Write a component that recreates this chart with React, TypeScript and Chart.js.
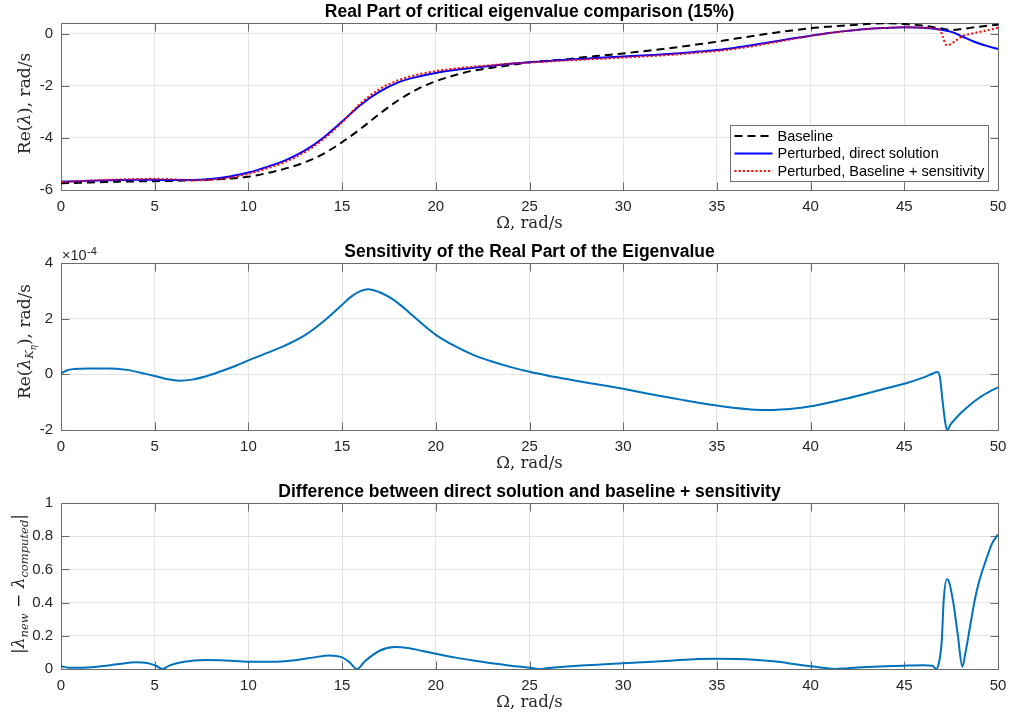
import React, { useEffect, useRef } from "react";
import { Chart, registerables } from "chart.js";

Chart.register(...registerables);

// ---- Top panel: real part of the critical eigenvalue (rad/s) ----
const baselineOmega = [0, 1, 2, 3, 4, 5, 6, 7, 8, 9, 10, 11, 12, 13, 14, 15, 16, 17, 18, 19, 20, 21, 22, 23, 24, 25, 26, 27, 28, 29, 30, 31, 32, 33, 34, 35, 36, 37, 38, 39, 40, 41, 42, 43, 44, 45, 46, 46.9, 47.6, 48.1, 49, 50];
const baselineRe = [-5.74, -5.72, -5.7, -5.68, -5.67, -5.66, -5.65, -5.63, -5.6, -5.56, -5.49, -5.35, -5.17, -4.94, -4.61, -4.16, -3.64, -3.07, -2.55, -2.13, -1.82, -1.59, -1.41, -1.3, -1.2, -1.09, -1.03, -0.97, -0.89, -0.82, -0.75, -0.67, -0.59, -0.5, -0.4, -0.3, -0.18, -0.07, 0.04, 0.13, 0.22, 0.28, 0.33, 0.38, 0.41, 0.38, 0.32, 0.22, 0.15, 0.19, 0.28, 0.35];

const directOmega = [0, 1, 2, 3, 4, 5, 6, 7, 8, 9, 10, 11, 12, 13, 14, 15, 16, 17, 18, 19, 20, 21, 22, 23, 24, 25, 26, 27, 28, 29, 30, 31, 32, 33, 34, 35, 36, 37, 38, 39, 40, 41, 42, 43, 44, 45, 46, 46.9, 47.6, 48.1, 48.7, 49.4, 50];
const directRe = [-5.68, -5.66, -5.63, -5.62, -5.61, -5.61, -5.62, -5.62, -5.58, -5.48, -5.33, -5.11, -4.85, -4.49, -3.99, -3.37, -2.72, -2.22, -1.86, -1.65, -1.5, -1.39, -1.3, -1.22, -1.15, -1.09, -1.04, -0.99, -0.95, -0.91, -0.87, -0.83, -0.79, -0.74, -0.68, -0.62, -0.53, -0.42, -0.3, -0.18, -0.07, 0.04, 0.12, 0.19, 0.23, 0.26, 0.24, 0.17, 0.06, -0.1, -0.29, -0.46, -0.58];

const estimateOmega = [0, 1, 2, 3, 4, 5, 6, 7, 8, 9, 10, 11, 12, 13, 14, 15, 16, 17, 18, 19, 20, 21, 22, 23, 24, 25, 26, 27, 28, 29, 30, 31, 32, 33, 34, 35, 36, 37, 38, 39, 40, 41, 42, 43, 44, 45, 46, 46.9, 47.05, 47.25, 47.45, 47.8, 48.1, 48.7, 49.4, 50];
const estimateRe = [-5.7, -5.66, -5.62, -5.6, -5.58, -5.57, -5.59, -5.63, -5.61, -5.53, -5.38, -5.17, -4.91, -4.55, -4.05, -3.4, -2.66, -2.12, -1.78, -1.57, -1.43, -1.33, -1.26, -1.2, -1.14, -1.1, -1.06, -1.02, -0.98, -0.95, -0.91, -0.87, -0.83, -0.78, -0.72, -0.66, -0.57, -0.46, -0.33, -0.2, -0.08, 0.03, 0.12, 0.19, 0.23, 0.26, 0.24, 0.16, -0.1, -0.43, -0.4, -0.23, -0.09, 0.03, 0.13, 0.24];

// ---- Middle panel: sensitivity of the real part, in units of 1e-4 rad/s ----
const sensOmega = [0, 0.3, 0.7, 1.5, 2.5, 3.5, 4.3, 5, 5.7, 6.3, 7, 7.7, 8.5, 9.3, 10, 11, 12, 13, 14, 15, 15.5, 16, 16.4, 17, 17.5, 18, 18.5, 19, 19.5, 20, 21, 22, 23, 24, 25, 26, 27, 28, 29, 30, 31, 32, 33, 34, 35, 36, 37, 38, 39, 40, 41, 42, 43, 44, 45, 46, 46.5, 46.75, 46.9, 47.05, 47.2, 47.3, 47.45, 47.7, 48, 48.5, 49, 49.5, 50];
const sensReE4 = [0.03, 0.14, 0.19, 0.21, 0.21, 0.16, 0.05, -0.06, -0.18, -0.23, -0.19, -0.08, 0.1, 0.3, 0.5, 0.77, 1.05, 1.4, 1.9, 2.5, 2.8, 3.0, 3.06, 2.95, 2.78, 2.55, 2.27, 1.97, 1.68, 1.42, 1.02, 0.7, 0.46, 0.26, 0.09, -0.05, -0.17, -0.29, -0.4, -0.52, -0.65, -0.78, -0.9, -1.02, -1.12, -1.21, -1.27, -1.28, -1.24, -1.15, -1.01, -0.86, -0.69, -0.51, -0.34, -0.12, 0.02, 0.08, -0.1, -1.0, -1.8, -2.0, -1.82, -1.62, -1.4, -1.1, -0.84, -0.64, -0.47];

// ---- Bottom panel: |lambda_new - lambda_computed| ----
const diffOmega = [0, 0.4, 1, 2, 3, 4, 4.6, 5.1, 5.4, 5.8, 6.5, 7.7, 8.5, 9.5, 10.5, 11.5, 12.5, 13.5, 14.3, 15, 15.4, 15.8, 16.2, 17, 17.8, 18.5, 19.3, 20, 21, 22, 23, 24, 25, 25.5, 26, 27, 28, 29, 30, 31, 32, 33, 34, 35, 36, 37, 38, 39, 40, 40.7, 41.3, 42, 43, 44, 45, 46, 46.5, 46.7, 46.87, 47.0, 47.1, 47.27, 47.37, 47.6, 47.85, 48.1, 48.25, 48.5, 48.75, 49, 49.4, 49.7, 50];
const diffAbs = [0.016, 0.008, 0.008, 0.015, 0.028, 0.04, 0.036, 0.018, 0.0, 0.022, 0.042, 0.054, 0.053, 0.047, 0.043, 0.044, 0.053, 0.07, 0.082, 0.07, 0.04, 0.0, 0.045, 0.11, 0.132, 0.127, 0.108, 0.092, 0.07, 0.051, 0.034, 0.02, 0.008, 0.0, 0.006, 0.015, 0.022, 0.028, 0.034, 0.04, 0.046, 0.054, 0.06, 0.062, 0.06, 0.055, 0.046, 0.032, 0.016, 0.007, 0.0, 0.005, 0.012, 0.017, 0.02, 0.022, 0.02, 0.0, 0.05, 0.17, 0.41, 0.54, 0.53, 0.41, 0.21, 0.014, 0.09, 0.25, 0.41, 0.53, 0.67, 0.76, 0.81];

// ---- Axis ticks ----
const omegaTicks = [0, 5, 10, 15, 20, 25, 30, 35, 40, 45, 50];
const reTicks = [-6, -4, -2, 0];
const sensTicks = [-2, 0, 2, 4];
const diffTicks = [0, 0.2, 0.4, 0.6, 0.8, 1];

const legendLabels = ["Baseline", "Perturbed, direct solution", "Perturbed, Baseline + sensitivity"];

const SANS = '"Liberation Sans", Arial, Helvetica, sans-serif';
const SERIF = '"DejaVu Serif", "Liberation Serif", serif';
const AXIS = "#262626";
const BOX = "#6b6b6b";
const GRID = "#e3e3e3";
const MATLAB_BLUE = "#0072BD";
const LABEL_SIZE = 17;
const SUB_SIZE = 11.5;

type Seg = { t: string; size: number; italic?: boolean; dy?: number };

interface PanelSpec {
  top: number;
  height: number;
  padTop: number;
  xAxisH: number;
  title: string;
  yMin: number;
  yMax: number;
  yTicks: number[];
  yLabel: Seg[];
  yLabelBase: number;
  yLabelShift: number;
  datasets: any[];
  legend?: boolean;
  exponent?: boolean;
}

const pts = (xs: number[], ys: number[]) => xs.map((x, i) => ({ x, y: ys[i] }));

const lineStyle = (color: string, dash: number[] = []) => ({
  borderColor: color,
  backgroundColor: color,
  borderWidth: 2,
  borderDash: dash,
  pointRadius: 0,
  fill: false,
  cubicInterpolationMode: "monotone" as const,
});

const PANELS: PanelSpec[] = [
  {
    top: 0,
    height: 230,
    padTop: 23,
    xAxisH: 40,
    title: "Real Part of critical eigenvalue comparison (15%)",
    yMin: -6,
    yMax: 0.42,
    yTicks: reTicks,
    yLabel: [
      { t: "Re(", size: LABEL_SIZE },
      { t: "λ", size: LABEL_SIZE, italic: true },
      { t: "), rad/s", size: LABEL_SIZE },
    ],
    yLabelBase: 30,
    yLabelShift: -3,
    legend: true,
    datasets: [
      { label: legendLabels[0], data: pts(baselineOmega, baselineRe), order: 3, ...lineStyle("#000000", [8, 5]) },
      { label: legendLabels[1], data: pts(directOmega, directRe), order: 2, ...lineStyle("#0000ff") },
      { label: legendLabels[2], data: pts(estimateOmega, estimateRe), order: 1, ...lineStyle("#ff0000", [2, 2.2]) },
    ],
  },
  {
    top: 230,
    height: 250,
    padTop: 33,
    xAxisH: 50,
    title: "Sensitivity of the Real Part of the Eigenvalue",
    yMin: -2,
    yMax: 4,
    yTicks: sensTicks,
    yLabel: [
      { t: "Re(", size: LABEL_SIZE },
      { t: "λ", size: LABEL_SIZE, italic: true },
      { t: "K", size: SUB_SIZE, italic: true, dy: 3 },
      { t: "η", size: 8.5, italic: true, dy: 6 },
      { t: "), rad/s", size: LABEL_SIZE },
    ],
    yLabelBase: 30,
    yLabelShift: -5,
    exponent: true,
    datasets: [{ label: "sensitivity", data: pts(sensOmega, sensReE4), ...lineStyle(MATLAB_BLUE) }],
  },
  {
    top: 480,
    height: 238,
    padTop: 23,
    xAxisH: 49,
    title: "Difference between direct solution and baseline + sensitivity",
    yMin: 0,
    yMax: 1,
    yTicks: diffTicks,
    yLabel: [
      { t: "|", size: LABEL_SIZE },
      { t: "λ", size: LABEL_SIZE, italic: true },
      { t: "new", size: SUB_SIZE, italic: true, dy: 4 },
      { t: " − ", size: LABEL_SIZE },
      { t: "λ", size: LABEL_SIZE, italic: true },
      { t: "computed", size: SUB_SIZE, italic: true, dy: 4 },
      { t: "|", size: LABEL_SIZE },
    ],
    yLabelBase: 24,
    yLabelShift: -2,
    datasets: [{ label: "difference", data: pts(diffOmega, diffAbs), ...lineStyle(MATLAB_BLUE) }],
  },
];

const segFont = (s: Seg) => `${s.italic ? "italic " : ""}${s.size}px ${SERIF}`;

// Draws a run of text pieces (with sub-scripts) centred on (cx, baseline)
function drawRich(ctx: CanvasRenderingContext2D, segs: Seg[], cx: number, cy: number, rotate: boolean) {
  ctx.save();
  ctx.translate(cx, cy);
  if (rotate) ctx.rotate(-Math.PI / 2);
  ctx.fillStyle = AXIS;
  ctx.textBaseline = "alphabetic";
  ctx.textAlign = "left";
  const widths = segs.map((s) => {
    ctx.font = segFont(s);
    return ctx.measureText(s.t).width;
  });
  const total = widths.reduce((a, b) => a + b, 0);
  let x = -total / 2;
  segs.forEach((s, i) => {
    ctx.font = segFont(s);
    ctx.fillText(s.t, x, s.dy || 0);
    x += widths[i];
  });
  ctx.restore();
}

function decorPlugin(spec: PanelSpec) {
  return {
    id: "panelDecor",
    beforeDatasetsDraw(chart: any) {
      const { ctx, chartArea: a, scales } = chart;
      const L = Math.floor(a.left) + 0.5;
      const R = Math.floor(a.right) + 0.5;
      const T = Math.floor(a.top) + 0.5;
      const B = Math.floor(a.bottom) + 0.5;
      const tl = 8;
      ctx.save();
      ctx.strokeStyle = BOX;
      ctx.lineWidth = 1;
      ctx.beginPath();
      ctx.rect(L, T, R - L, B - T);
      omegaTicks.forEach((v) => {
        const px = Math.round(scales.x.getPixelForValue(v)) + 0.5;
        ctx.moveTo(px, B);
        ctx.lineTo(px, B - tl);
        ctx.moveTo(px, T);
        ctx.lineTo(px, T + tl);
      });
      spec.yTicks.forEach((v) => {
        const py = Math.round(scales.y.getPixelForValue(v)) + 0.5;
        ctx.moveTo(L, py);
        ctx.lineTo(L + tl, py);
        ctx.moveTo(R, py);
        ctx.lineTo(R - tl, py);
      });
      ctx.stroke();
      ctx.restore();
    },
    afterDraw(chart: any) {
      const { ctx, chartArea: a } = chart;
      const cx = (a.left + a.right) / 2;
      ctx.save();
      // title
      ctx.fillStyle = "#000";
      ctx.font = `bold 17.5px ${SANS}`;
      ctx.textAlign = "center";
      ctx.textBaseline = "middle";
      ctx.fillText(spec.title, cx, a.top - 10.5);
      ctx.restore();

      // x-axis label
      drawRich(ctx, [{ t: "Ω, rad/s", size: LABEL_SIZE - 0.5 }], cx, a.bottom + 38, false);
      // y-axis label
      drawRich(ctx, spec.yLabel, spec.yLabelBase, (a.top + a.bottom) / 2 + spec.yLabelShift, true);

      if (spec.exponent) {
        ctx.save();
        ctx.fillStyle = AXIS;
        ctx.textAlign = "left";
        ctx.textBaseline = "alphabetic";
        ctx.font = `14.5px ${SANS}`;
        ctx.fillText("×10", a.left + 1, a.top - 3);
        const w = ctx.measureText("×10").width;
        ctx.font = `11px ${SANS}`;
        ctx.fillText("-4", a.left + 1 + w + 0.5, a.top - 8);
        ctx.restore();
      }

      if (spec.legend) {
        const bx = 730.5, by = 125.5, bw = 258, bh = 56;
        ctx.save();
        ctx.fillStyle = "#fff";
        ctx.fillRect(bx, by, bw, bh);
        ctx.strokeStyle = BOX;
        ctx.lineWidth = 1;
        ctx.strokeRect(bx, by, bw, bh);
        const rows = [136, 153.5, 171];
        chart.data.datasets.forEach((ds: any, i: number) => {
          const y = rows[i];
          ctx.strokeStyle = ds.borderColor;
          ctx.lineWidth = ds.borderWidth;
          ctx.setLineDash(ds.borderDash || []);
          ctx.beginPath();
          ctx.moveTo(bx + 4, y);
          ctx.lineTo(bx + 42, y);
          ctx.stroke();
          ctx.setLineDash([]);
          ctx.fillStyle = "#000";
          ctx.font = `14.5px ${SANS}`;
          ctx.textAlign = "left";
          ctx.textBaseline = "middle";
          ctx.fillText(ds.label, bx + 47, y + 0.5);
        });
        ctx.restore();
      }
    },
  };
}

function Panel({ spec }: { spec: PanelSpec }) {
  const ref = useRef<HTMLCanvasElement>(null);
  useEffect(() => {
    const canvas = ref.current;
    if (!canvas) return;
    const tickFont = { family: SANS, size: 15 };
    const chart = new Chart(canvas, {
      type: "line",
      data: { datasets: spec.datasets },
      options: {
        animation: false,
        responsive: false,
        devicePixelRatio: 1,
        layout: { padding: { top: spec.padTop, right: 12, left: 0, bottom: 0 } },
        plugins: { legend: { display: false }, tooltip: { enabled: false }, title: { display: false } },
        scales: {
          x: {
            type: "linear",
            min: 0,
            max: 50,
            afterBuildTicks: (s: any) => {
              s.ticks = omegaTicks.map((v) => ({ value: v }));
            },
            afterFit: (s: any) => {
              s.height = spec.xAxisH;
              s.paddingLeft = 0;
              s.paddingRight = 0;
            },
            ticks: {
              font: tickFont,
              color: AXIS,
              padding: 8,
              maxRotation: 0,
              autoSkip: false,
              callback: (v: any) => String(v),
            },
            grid: { color: GRID, lineWidth: 1, drawTicks: false },
            border: { display: false },
          },
          y: {
            type: "linear",
            min: spec.yMin,
            max: spec.yMax,
            afterBuildTicks: (s: any) => {
              s.ticks = spec.yTicks.map((v) => ({ value: v }));
            },
            afterFit: (s: any) => {
              s.width = 61;
              s.paddingTop = 0;
              s.paddingBottom = 0;
            },
            ticks: {
              font: tickFont,
              color: AXIS,
              padding: 8,
              autoSkip: false,
              callback: (v: any) => String(v),
            },
            grid: { color: GRID, lineWidth: 1, drawTicks: false },
            border: { display: false },
          },
        },
      },
      plugins: [decorPlugin(spec)],
    } as any);
    return () => chart.destroy();
  }, [spec]);
  return (
    <canvas
      ref={ref}
      width={1010}
      height={spec.height}
      style={{ position: "absolute", left: 0, top: spec.top, width: 1010, height: spec.height, display: "block" }}
    />
  );
}

export default function App() {
  return (
    <div style={{ position: "absolute", left: 0, top: 0, width: 1010, height: 718, background: "#ffffff" }}>
      {PANELS.map((p, i) => (
        <Panel key={i} spec={p} />
      ))}
    </div>
  );
}
